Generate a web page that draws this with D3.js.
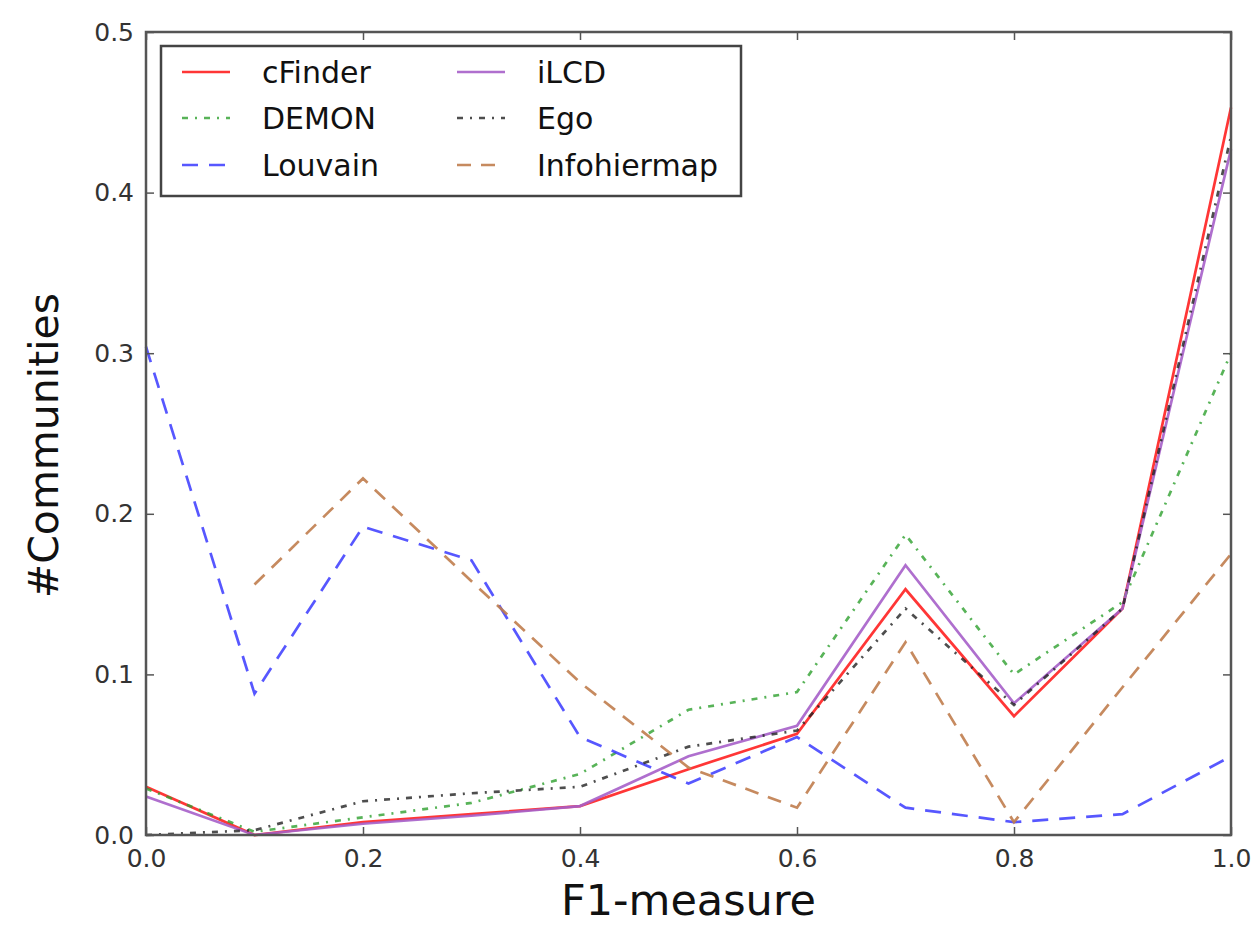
<!DOCTYPE html>
<html>
<head>
<meta charset="utf-8">
<script src="https://cdn.jsdelivr.net/npm/d3@7/dist/d3.min.js"></script>
<style>
  html, body { margin: 0; padding: 0; background: #fff; }
  svg { display: block; font-family: "DejaVu Sans", sans-serif; }
</style>
</head>
<body>
<svg id="chart" width="1252" height="927"></svg>
<script>
// ---- data ----
const xValues = [0.0, 0.1, 0.2, 0.3, 0.4, 0.5, 0.6, 0.7, 0.8, 0.9, 1.0];
const seriesNames = ["cFinder", "DEMON", "Louvain", "iLCD", "Ego", "Infohiermap"];
const cFinder     = [0.030, 0.000, 0.008, 0.013, 0.018, 0.041, 0.063, 0.153, 0.074, 0.141, 0.453];
const demon       = [0.029, 0.002, 0.011, 0.020, 0.038, 0.078, 0.089, 0.187, 0.100, 0.145, 0.300];
const louvain     = [0.304, 0.088, 0.192, 0.171, 0.061, 0.032, 0.061, 0.017, 0.008, 0.013, 0.049];
const ilcd        = [0.024, 0.000, 0.007, 0.012, 0.018, 0.049, 0.068, 0.168, 0.082, 0.141, 0.427];
const ego         = [0.000, 0.003, 0.021, 0.026, 0.030, 0.055, 0.065, 0.141, 0.081, 0.141, 0.435];
const infohiermap = [null, 0.156, 0.222, 0.158, 0.095, 0.042, 0.017, 0.120, 0.008, 0.092, 0.175];
const xTicks = [0.0, 0.2, 0.4, 0.6, 0.8, 1.0];
const yTicks = [0.0, 0.1, 0.2, 0.3, 0.4, 0.5];
const xLabel = "F1-measure";
const yLabel = "#Communities";

const seriesValues = [cFinder, demon, louvain, ilcd, ego, infohiermap];
const styles = [
  { color: "#ff2020", dash: null,        width: 2.7, opacity: 0.9 },
  { color: "#2ea02e", dash: "6,7,2,7",   width: 2.7, opacity: 0.8 },
  { color: "#3a3aff", dash: "16,11",     width: 2.7, opacity: 0.85 },
  { color: "#a65fc9", dash: null,        width: 2.7, opacity: 0.9 },
  { color: "#222222", dash: "6,7,2,7",   width: 2.7, opacity: 0.8 },
  { color: "#c07d4e", dash: "14,10",     width: 2.7, opacity: 0.9 }
];

// ---- layout ----
const svg = d3.select("#chart");
const L = 146, R = 1231, T = 32, B = 835;
const x = d3.scaleLinear().domain([0, 1]).range([L, R]);
const y = d3.scaleLinear().domain([0, 0.5]).range([B, T]);

// lines
const line = d3.line()
  .defined(d => d[1] !== null)
  .x(d => x(d[0]))
  .y(d => y(d[1]));

seriesValues.forEach((vals, i) => {
  const st = styles[i];
  svg.append("path")
    .datum(xValues.map((xv, j) => [xv, vals[j]]))
    .attr("d", line)
    .attr("fill", "none")
    .attr("stroke", st.color)
    .attr("stroke-width", st.width)
    .attr("stroke-opacity", st.opacity)
    .attr("stroke-linejoin", "miter")
    .attr("stroke-dasharray", st.dash);
});

// axes (ticks inward)
const tickColor = "#555";
const axB = d3.axisBottom(x).tickValues(xTicks).tickFormat(d3.format(".1f")).tickSizeInner(-8).tickSizeOuter(0).tickPadding(14);
const axL = d3.axisLeft(y).tickValues(yTicks).tickFormat(d3.format(".1f")).tickSizeInner(-8).tickSizeOuter(0).tickPadding(12);
const axT = d3.axisTop(x).tickValues(xTicks).tickFormat("").tickSizeInner(-8).tickSizeOuter(0);
const axR = d3.axisRight(y).tickValues(yTicks).tickFormat("").tickSizeInner(-8).tickSizeOuter(0);

function styleAxis(g) {
  g.select(".domain").remove();
  g.selectAll(".tick line").attr("stroke", tickColor).attr("stroke-width", 1.5);
  g.selectAll(".tick text").attr("fill", "#333").style("font-size", "25px").style("font-family", "DejaVu Sans, sans-serif");
}
svg.append("g").attr("transform", `translate(0,${B})`).call(axB).call(styleAxis);
svg.append("g").attr("transform", `translate(${L},0)`).call(axL).call(styleAxis);
svg.append("g").attr("transform", `translate(0,${T})`).call(axT).call(styleAxis);
svg.append("g").attr("transform", `translate(${R},0)`).call(axR).call(styleAxis);

// frame
svg.append("rect")
  .attr("x", L).attr("y", T).attr("width", R - L).attr("height", B - T)
  .attr("fill", "none").attr("stroke", "#555").attr("stroke-width", 2.5);

// axis labels
svg.append("text")
  .attr("x", (L + R) / 2).attr("y", 915)
  .attr("text-anchor", "middle")
  .style("font-size", "43px").attr("fill", "#111")
  .text(xLabel);
svg.append("text")
  .attr("transform", `translate(58,${(T + B) / 2 + 12}) rotate(-90)`)
  .attr("text-anchor", "middle")
  .style("font-size", "41px").attr("fill", "#111")
  .text(yLabel);

// legend
const lg = svg.append("g");
lg.append("rect")
  .attr("x", 161).attr("y", 46).attr("width", 580).attr("height", 150)
  .attr("fill", "#fff").attr("stroke", "#444").attr("stroke-width", 2.5);
const rowY = [72, 118, 165];
const colX = [182, 457];
seriesNames.forEach((name, i) => {
  const col = Math.floor(i / 3), row = i % 3;
  const st = styles[i];
  const cy = rowY[row];
  lg.append("line")
    .attr("x1", colX[col]).attr("x2", colX[col] + 48)
    .attr("y1", cy).attr("y2", cy)
    .attr("stroke", st.color).attr("stroke-width", st.width)
    .attr("stroke-opacity", st.opacity)
    .attr("stroke-dasharray", st.dash);
  lg.append("text")
    .attr("x", colX[col] + 80).attr("y", cy + 11)
    .style("font-size", "30px").attr("fill", "#111")
    .text(name);
});
</script>
</body>
</html>
